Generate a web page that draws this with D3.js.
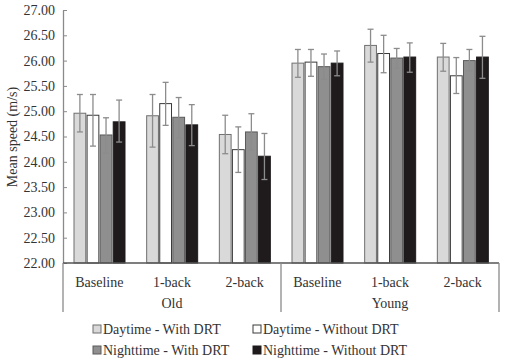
<!DOCTYPE html>
<html>
<head>
<meta charset="utf-8">
<script src="https://cdn.jsdelivr.net/npm/d3@7"></script>
<style>
  body { margin: 0; background: #fff; }
  text { font-family: "Liberation Serif", "Times New Roman", serif; fill: #333; }
</style>
</head>
<body>
<div id="chart"></div>
<script>
// Dữ liệu
const groups = ["Old", "Young"];
const conditions = ["Baseline", "1-back", "2-back"];
const seriesNames = ["Daytime - With DRT", "Daytime - Without DRT", "Nighttime - With DRT", "Nighttime - Without DRT"];
const yTicks = [22, 22.5, 23, 23.5, 24, 24.5, 25, 25.5, 26, 26.5, 27];

const dayWith = [24.96, 24.91, 24.54, 25.95, 26.30, 26.07];
const dayWithLo = [24.59, 24.29, 24.16, 25.67, 25.97, 25.79];
const dayWithHi = [25.33, 25.33, 24.92, 26.22, 26.62, 26.34];

const dayWithout = [24.92, 25.15, 24.24, 25.97, 26.14, 25.70];
const dayWithoutLo = [24.31, 24.72, 23.79, 25.69, 25.76, 25.35];
const dayWithoutHi = [25.33, 25.57, 24.69, 26.22, 26.50, 26.06];

const nightWith = [24.53, 24.88, 24.59, 25.88, 26.05, 26.00];
const nightWithLo = [24.17, 24.47, 24.23, 25.63, 25.85, 25.80];
const nightWithHi = [24.87, 25.27, 24.95, 26.13, 26.24, 26.22];

const nightWithout = [24.79, 24.73, 24.11, 25.95, 26.07, 26.07];
const nightWithoutLo = [24.39, 24.32, 23.65, 25.70, 25.77, 25.65];
const nightWithoutHi = [25.22, 25.13, 24.56, 26.19, 26.35, 26.48];

const fills = ["#d9d9d9", "#ffffff", "#8f8f8f", "#1f1b1c"];
const strokes = ["#6f6f6f", "#3a3a3a", "#5a5a5a", "#1f1b1c"];

const W = 508, H = 362;
const svg = d3.select("#chart").append("svg").attr("width", W).attr("height", H);

// Các ô danh mục: nhóm x điều kiện
const cells = [];
groups.forEach(g => conditions.forEach(c => cells.push(g + "|" + c)));

const x0 = d3.scaleBand().domain(cells).range([63, 499]);
const x1 = d3.scaleBand().domain(seriesNames).range([11, 62]).paddingInner(0.1);
const y = d3.scaleLinear().domain([22, 27]).range([263, 10]);

const vals = [dayWith, dayWithout, nightWith, nightWithout];
const los = [dayWithLo, dayWithoutLo, nightWithLo, nightWithoutLo];
const his = [dayWithHi, dayWithoutHi, nightWithHi, nightWithoutHi];

const rows = [];
seriesNames.forEach((s, si) => {
  cells.forEach((cell, ci) => {
    rows.push({ s, si, cell, v: vals[si][ci], lo: los[si][ci], hi: his[si][ci] });
  });
});

// Trục Y
const yAxis = svg.append("g")
  .attr("transform", "translate(63,0)")
  .call(d3.axisLeft(y).tickValues(yTicks).tickFormat(d3.format(".2f")).tickSizeInner(-4).tickSizeOuter(0).tickPadding(8));
yAxis.select(".domain").attr("stroke", "#8a8a8a").attr("stroke-width", 1.3);
yAxis.selectAll(".tick line").attr("stroke", "#8a8a8a");
yAxis.selectAll(".tick text").style("font-size", "14px").style("font-family", "Liberation Serif, serif").attr("fill", "#333");

// Cột
svg.append("g").selectAll("rect").data(rows).enter().append("rect")
  .attr("x", d => x0(d.cell) + x1(d.s))
  .attr("y", d => y(d.v))
  .attr("width", x1.bandwidth())
  .attr("height", d => y(22) - y(d.v))
  .attr("fill", d => fills[d.si])
  .attr("stroke", d => strokes[d.si])
  .attr("stroke-width", 1);

// Thanh sai số
const eb = svg.append("g").attr("stroke", "#8c8c8c").attr("stroke-width", 1.3);
rows.forEach(d => {
  const cx = x0(d.cell) + x1(d.s) + x1.bandwidth() / 2;
  eb.append("line").attr("x1", cx).attr("x2", cx).attr("y1", y(d.hi)).attr("y2", y(d.lo));
  eb.append("line").attr("x1", cx - 3).attr("x2", cx + 3).attr("y1", y(d.hi)).attr("y2", y(d.hi));
  eb.append("line").attr("x1", cx - 3).attr("x2", cx + 3).attr("y1", y(d.lo)).attr("y2", y(d.lo));
});

// Trục X nhiều cấp
svg.append("line").attr("x1", 63).attr("x2", 499).attr("y1", y(22)).attr("y2", y(22))
  .attr("stroke", "#555").attr("stroke-width", 1.3);

const sepX = [63, x0("Young|Baseline"), 499];
svg.append("g").selectAll("line").data(sepX).enter().append("line")
  .attr("x1", d => d).attr("x2", d => d)
  .attr("y1", y(22)).attr("y2", 312)
  .attr("stroke", "#8a8a8a").attr("stroke-width", 1.3);

svg.append("g").selectAll("text").data(cells).enter().append("text")
  .attr("x", d => x0(d) + x0.bandwidth() / 2)
  .attr("y", 287)
  .attr("text-anchor", "middle")
  .style("font-size", "14px")
  .text(d => d.split("|")[1]);

svg.append("g").selectAll("text").data(groups).enter().append("text")
  .attr("x", g => (x0(g + "|Baseline") + x0(g + "|2-back") + x0.bandwidth()) / 2)
  .attr("y", 308)
  .attr("text-anchor", "middle")
  .style("font-size", "14px")
  .text(g => g);

// Nhãn trục Y
svg.append("text")
  .attr("transform", "translate(17,137) rotate(-90)")
  .attr("text-anchor", "middle")
  .style("font-size", "14px")
  .text("Mean speed (m/s)");

// Chú thích
const legendPos = [[93, 329], [253, 329], [93, 350], [253, 350]];
seriesNames.forEach((s, i) => {
  const [lx, ly] = legendPos[i];
  svg.append("rect").attr("x", lx).attr("y", ly - 4).attr("width", 8).attr("height", 8)
    .attr("fill", fills[i]).attr("stroke", strokes[i]).attr("stroke-width", 1);
  svg.append("text").attr("x", lx + 10).attr("y", ly + 5)
    .style("font-size", "14px").text(s);
});
</script>
</body>
</html>
